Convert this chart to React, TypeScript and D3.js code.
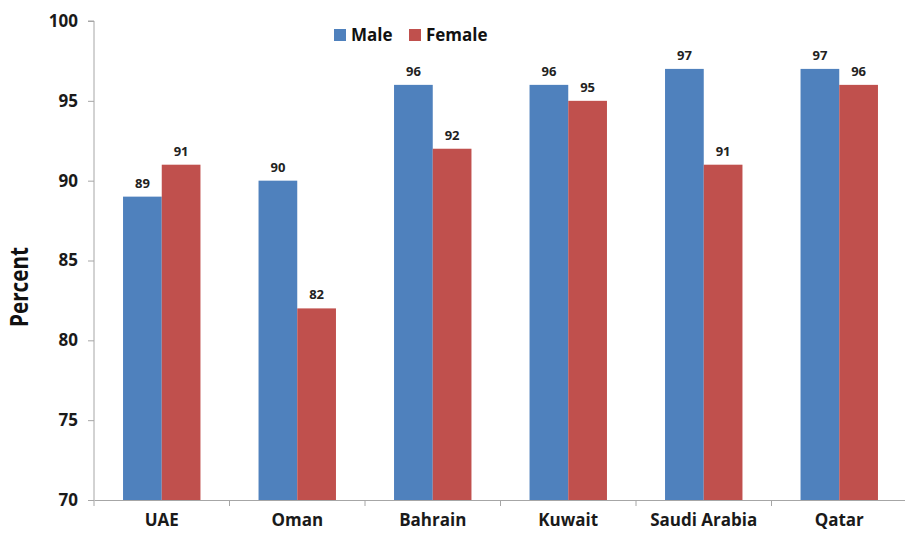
import React, { useEffect, useRef } from 'react';
import * as d3 from 'd3';

const countries = ['UAE', 'Oman', 'Bahrain', 'Kuwait', 'Saudi Arabia', 'Qatar'];
const male = [89, 90, 96, 96, 97, 97];
const female = [91, 82, 92, 95, 91, 96];
const seriesNames = ['Male', 'Female'];
const yTicks = [70, 75, 80, 85, 90, 95, 100];

const colors = ['#4F81BD', '#C0504D'];
const font = "'Open Sans', Arial, sans-serif";

export default function App() {
  const ref = useRef<SVGSVGElement>(null);

  useEffect(() => {
    const svg = d3.select(ref.current);
    svg.selectAll('*').remove();

    const left = 94, top = 21, bottom = 500, right = 907;

    const x = d3.scaleBand().domain(countries).range([left, right]).paddingInner(0).paddingOuter(0);
    const inner = d3.scaleBand().domain(seriesNames).range([0, x.bandwidth()]).paddingInner(0).paddingOuter(0.75);
    const y = d3.scaleLinear().domain([70, 100]).range([bottom, top]);

    const rows = countries.map((c, i) => ({ c, vals: [male[i], female[i]] }));

    // bars
    const groups = svg.append('g').selectAll('g').data(rows).join('g')
      .attr('transform', d => `translate(${x(d.c)},0)`);
    groups.selectAll('rect')
      .data(d => d.vals.map((v, k) => ({ v, k })))
      .join('rect')
      .attr('x', d => inner(seriesNames[d.k])!)
      .attr('y', d => y(d.v))
      .attr('width', inner.bandwidth())
      .attr('height', d => bottom - y(d.v))
      .attr('fill', d => colors[d.k]);
    groups.selectAll('text')
      .data(d => d.vals.map((v, k) => ({ v, k })))
      .join('text')
      .attr('x', d => inner(seriesNames[d.k])! + inner.bandwidth() / 2)
      .attr('y', d => y(d.v) - 9)
      .attr('text-anchor', 'middle')
      .attr('font-family', font)
      .attr('font-weight', 'bold')
      .attr('font-size', 13)
      .attr('fill', '#222')
      .text(d => d.v);

    // y axis
    const yAxis = svg.append('g')
      .attr('transform', `translate(${left},0)`)
      .call(d3.axisLeft(y).tickValues(yTicks).tickSize(6).tickPadding(10));
    yAxis.select('.domain').attr('stroke', '#a6a6a6').attr('d', `M-6,${top}H0V${bottom}`);
    yAxis.selectAll('.tick line').attr('stroke', '#a6a6a6');
    yAxis.selectAll('.tick text')
      .attr('font-family', font).attr('font-weight', 'bold').attr('font-size', 17).attr('fill', '#1a1a1a');

    // x axis
    const xAxis = svg.append('g')
      .attr('transform', `translate(0,${bottom})`)
      .call(d3.axisBottom(x).tickSize(0).tickPadding(14));
    xAxis.select('.domain').attr('stroke', '#a6a6a6');
    xAxis.selectAll('.tick text')
      .attr('font-family', font).attr('font-weight', 'bold').attr('font-size', 17).attr('fill', '#1a1a1a');
    xAxis.selectAll('.sep')
      .data(countries)
      .join('line')
      .attr('class', 'sep')
      .attr('x1', d => x(d)!).attr('x2', d => x(d)!)
      .attr('y1', 0).attr('y2', 6)
      .attr('stroke', '#a6a6a6');

    // y title
    svg.append('text')
      .attr('transform', `translate(28,287) rotate(-90)`)
      .attr('text-anchor', 'middle')
      .attr('font-family', font)
      .attr('font-weight', 'bold')
      .attr('font-size', 25)
      .attr('textLength', 80)
      .attr('lengthAdjust', 'spacingAndGlyphs')
      .attr('fill', '#111')
      .text('Percent');

    // legend
    const legend = svg.append('g').attr('transform', 'translate(334,29)');
    const offsets = [0, 75];
    seriesNames.forEach((s, i) => {
      const g = legend.append('g').attr('transform', `translate(${offsets[i]},0)`);
      g.append('rect').attr('width', 12).attr('height', 12).attr('fill', colors[i]);
      g.append('text')
        .attr('x', 17).attr('y', 12)
        .attr('font-family', font)
        .attr('font-weight', 'bold')
        .attr('font-size', 17)
        .attr('fill', '#111')
        .text(s);
    });
  }, []);

  return (
    <svg ref={ref} width={905} height={533}
      style={{ position: 'absolute', left: 0, top: 0, background: '#fff' }} />
  );
}
